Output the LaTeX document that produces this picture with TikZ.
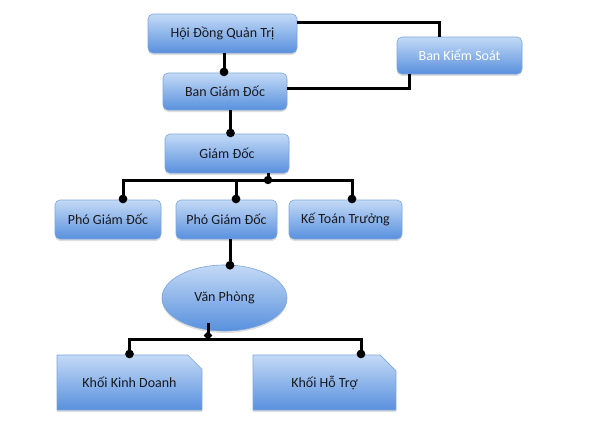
\documentclass[tikz,border=0pt]{standalone}
\usepackage{fontspec}
\setmainfont{Carlito}
\usetikzlibrary{arrows.meta,shapes.geometric,shapes.misc,shadows}
\definecolor{boxtop}{RGB}{196,218,246}
\definecolor{boxbot}{RGB}{88,144,222}
\definecolor{boxedge}{RGB}{125,165,218}
\definecolor{txt}{RGB}{25,25,30}
\tikzset{
  orgbox/.style={rectangle, rounded corners=5pt, top color=boxtop, bottom color=boxbot,
    draw=boxedge, line width=0.6pt, text=txt, font=\fontsize{14}{16}\selectfont,
    inner sep=0pt, drop shadow={opacity=0.25, shadow xshift=0pt, shadow yshift=-2pt}},
  orgoval/.style={ellipse, top color=boxtop, bottom color=boxbot,
    draw=boxedge, line width=0.6pt, text=txt, font=\fontsize{14}{16}\selectfont,
    inner sep=0pt, drop shadow={opacity=0.25, shadow xshift=0pt, shadow yshift=-2pt}},
  orgsnip/.style={chamfered rectangle, chamfered rectangle corners=north east,
    chamfered rectangle xsep=9pt, chamfered rectangle ysep=9pt,
    top color=boxtop, bottom color=boxbot,
    draw=boxedge, line width=0.6pt, text=txt, font=\fontsize{14}{16}\selectfont,
    inner sep=0pt, drop shadow={opacity=0.25, shadow xshift=0pt, shadow yshift=-2pt}},
  link/.style={line width=3pt, black},
  dotend/.style={link, -{Circle[length=8.5pt,width=8.5pt]}, shorten >=-3.5pt},
}
\begin{document}
\begin{tikzpicture}[x=1pt,y=-1pt]
\useasboundingbox (0,0) rectangle (596,447);
\fill[white] (0,0) rectangle (596,447);

\node[orgbox, minimum width=149pt, minimum height=39pt] (hdqt) at (222.5,33.5) {Hội Đồng Quản Trị};
\node[orgbox, minimum width=125pt, minimum height=37pt, text=white] (bks) at (459.5,55.5) {Ban Kiểm Soát};
\node[orgbox, minimum width=124pt, minimum height=37pt] (bgd) at (225,91.5) {Ban Giám Đốc};
\node[orgbox, minimum width=124pt, minimum height=39pt] (gd) at (227,153.5) {Giám Đốc};
\node[orgbox, minimum width=106pt, minimum height=39pt] (pgd1) at (108,219.5) {Phó Giám Đốc};
\node[orgbox, minimum width=101pt, minimum height=39pt] (pgd2) at (226.5,219.5) {Phó Giám Đốc};
\node[orgbox, minimum width=113pt, minimum height=39pt] (ktt) at (345.5,219.5) {Kế Toán Trưởng};
\node[orgoval, minimum width=125pt, minimum height=66pt] (vp) at (224.5,298) {Văn Phòng};
\node[orgsnip, minimum width=145pt, minimum height=55pt] (kkd) at (129.5,382.5) {Khối Kinh Doanh};
\node[orgsnip, minimum width=143pt, minimum height=55pt] (kht) at (324.5,382.5) {Khối Hỗ Trợ};

\coordinate (j1) at (268,180);
\coordinate (j2) at (208,339);
\coordinate (vpout) at (208,323);

% Hoi Dong -> Ban Kiem Soat
\draw[link] ([yshift=11.5pt]hdqt.east) -| ([xshift=-20.5pt]bks.north);
% Ban Giam Doc -> Ban Kiem Soat
\draw[link] ([yshift=3.5pt]bgd.east) -| ([xshift=-50.5pt]bks.south);
% Hoi Dong -> Ban Giam Doc
\draw[dotend] ([xshift=1.5pt]hdqt.south) -- ([xshift=-1pt]bgd.north);
% Ban Giam Doc -> Giam Doc
\draw[dotend] ([xshift=5.5pt]bgd.south) -- ([xshift=3.5pt]gd.north);
% Giam Doc -> bus
\draw[link] (gd.south -| j1) -- (j1);
\fill (j1) circle (4.2pt);
\draw[dotend] (j1) -| ([xshift=15pt]pgd1.north);
\draw[dotend] (j1) -| ([xshift=9.5pt]pgd2.north);
\draw[dotend] (j1) -| ([xshift=6.5pt]ktt.north);
% Pho Giam Doc -> Van Phong
\draw[dotend] ([xshift=3.5pt]pgd2.south) -- (230,266);
% Van Phong -> bus
\draw[link, -{Diamond[length=9pt,width=8.5pt]}, shorten >=-1pt] (vpout) -- (j2);
\draw[dotend] (j2) -| (kkd.north);
\draw[dotend] (j2) -| ([xshift=36.5pt]kht.north);
\end{tikzpicture}
\end{document}
